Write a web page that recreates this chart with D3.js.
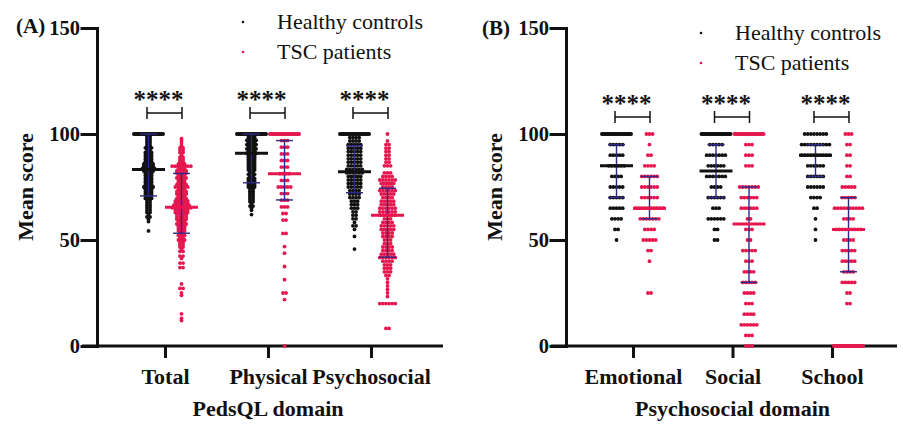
<!DOCTYPE html>
<html>
<head>
<meta charset="utf-8">
<script src="https://cdn.jsdelivr.net/npm/d3@7"></script>
<style>
  body { margin: 0; background: #fff; }
  text { font-family: 'Liberation Serif', 'Times New Roman', serif; fill: #111; }
</style>
</head>
<body>
<svg id="chart" width="903" height="424"></svg>
<script>
const catsA = ['Total', 'Physical', 'Psychosocial']
const catsB = ['Emotional', 'Social', 'School']
const yTicks = [0, 50, 100, 150]
const groups = ['Healthy controls', 'TSC patients']

// [score, number of children at that score]
const totalHC = [[100,26],[98.9,2],[97.8,2],[96.7,2],[95.7,2],[94.6,2],[93.5,3],[92.4,2],[91.3,3],[90.2,3],[89.1,3],[88.0,3],[87.0,3],[85.9,4],[84.8,4],[83.7,5],[82.6,4],[81.5,3],[80.4,3],[79.3,3],[78.3,3],[77.2,3],[76.1,3],[75.0,4],[73.9,3],[72.8,3],[71.7,3],[70.7,3],[69.6,3],[68.5,2],[67.4,2],[66.3,2],[65.2,2],[64.1,2],[63.0,2],[62.0,1],[60.9,2],[59.8,1],[58.7,1],[54.3,1]]
const totalTSC = [[97.8,1],[96.7,1],[95.7,1],[94.6,1],[93.5,2],[92.4,2],[91.3,2],[90.2,1],[89.1,2],[88.0,2],[87.0,2],[85.9,3],[84.8,7],[83.7,3],[82.6,4],[81.5,4],[80.4,3],[79.3,4],[78.3,3],[77.2,3],[76.1,4],[75.0,5],[73.9,3],[72.8,4],[71.7,4],[70.7,3],[69.6,4],[68.5,5],[67.4,5],[66.3,6],[65.2,7],[64.1,5],[63.0,5],[62.0,4],[60.9,4],[59.8,4],[58.7,3],[57.6,4],[56.5,3],[55.4,3],[54.3,3],[53.3,2],[52.2,3],[51.1,2],[50.0,3],[48.9,2],[47.8,2],[46.7,2],[45.7,1],[44.6,2],[42.4,2],[41.3,1],[39.1,2],[37.0,2],[29.3,1],[27.2,2],[25.0,1],[23.9,1],[15.2,1],[13.0,1],[12.0,1]]
const physHC = [[100,26],[99,3],[98,3],[97,4],[96,3],[95,4],[94,3],[93,4],[92,3],[91,4],[90,3],[89,3],[88,3],[87,3],[86,3],[85,3],[84,3],[83,3],[82,2],[81,3],[80,2],[79,3],[78,3],[77,3],[76,3],[75,3],[74,2],[73,2],[72,2],[71,2],[70,2],[69,2],[68,2],[67,1],[66,2],[65,1],[64,1],[62,1]]
const physTSC = [[100,24],[96.9,3],[93.8,3],[90.6,3],[87.5,3],[84.4,3],[81.3,4],[78.1,3],[75,5],[71.9,3],[68.8,3],[65.6,3],[62.5,2],[59.4,2],[53.1,2],[46.9,1],[43.8,1],[37.5,1],[31.3,1],[25,2],[21.9,1],[0,1]]
const psyHC = [[100,24],[98.3,4],[96.7,4],[95,5],[93.3,5],[91.7,5],[90,5],[88.3,5],[86.7,5],[85,5],[83.3,6],[81.7,6],[80,5],[78.3,5],[76.7,5],[75,5],[73.3,4],[71.7,4],[70,4],[68.3,3],[66.7,3],[65,3],[63.3,2],[61.7,2],[60,2],[58.3,1],[56.7,2],[55,1],[51.7,1],[45.7,1]]
const psyTSC = [[100,1],[96.7,1],[95,2],[93.3,2],[91.7,2],[90,2],[88.3,2],[86.7,2],[85,3],[81.7,3],[80,4],[78.3,6],[76.7,5],[75,4],[73.3,6],[71.7,5],[70,4],[68.3,5],[66.7,5],[65,6],[63.3,6],[61.7,6],[60,3],[58.3,4],[56.7,5],[55,5],[53.3,4],[51.7,4],[50,3],[48.3,3],[46.7,4],[45,4],[43.3,5],[41.7,6],[40,4],[38.3,3],[36.7,3],[35,3],[33.3,2],[31.7,1],[30,1],[28.3,1],[26.7,1],[25,1],[23.3,1],[20,6],[8.3,2]]
const emoHC = [[100,24],[95,5],[90,5],[85,6],[80,4],[75,5],[70,5],[65,5],[60,4],[55,2],[50,1]]
const emoTSC = [[100,3],[95,1],[90,2],[85,4],[80,6],[75,6],[70,6],[65,10],[60,7],[55,4],[50,5],[45,2],[40,1],[25,2]]
const socHC = [[100,26],[95,5],[90,7],[85,6],[80,7],[75,4],[70,6],[65,3],[60,6],[55,2],[50,2]]
const socTSC = [[100,24],[95,3],[90,3],[85,3],[75,7],[70,6],[65,6],[60,2],[55,3],[50,2],[45,5],[40,3],[35,4],[30,5],[25,4],[20,3],[15,4],[10,6],[5,3],[0,3]]
const schHC = [[100,8],[95,10],[90,10],[85,6],[80,6],[75,6],[70,4],[65,2],[60,1],[55,1],[50,1]]
const schTSC = [[100,3],[95,2],[90,2],[85,2],[80,2],[75,5],[70,5],[65,10],[60,4],[55,9],[50,4],[45,5],[40,5],[35,4],[30,5],[25,2],[20,2],[0,20]]

// median and interquartile range, per category
const medHC_A = [83.3, 90.9, 82.2]
const q1HC_A = [70.8, 77.0, 72.3]
const q3HC_A = [100, 100, 94.4]
const medTSC_A = [65.4, 81.3, 61.7]
const q1TSC_A = [53.2, 68.9, 41.9]
const q3TSC_A = [81.4, 96.9, 74.4]
const medHC_B = [85, 82.5, 90]
const q1HC_B = [70, 70, 80]
const q3HC_B = [95, 95, 95]
const medTSC_B = [65, 57.5, 55]
const q1TSC_B = [60, 30, 35]
const q3TSC_B = [80, 75, 70]

const red = '#e5174e'
const navy = '#2e2b88'
const ink = '#111'
const half = 16.5
const dotR = 1.9

const svg = d3.select('#chart')
const y = d3.scaleLinear().domain([0, 150]).range([346, 28])

function rows(data, cx) {
  let pts = []
  data.forEach(([v, n]) => {
    let step = n > 1 ? Math.min(3.1, (2 * half - 2 * dotR) / (n - 1)) : 0
    for (let i = 0; i < n; i++) pts.push({ v: v, x: cx + (i - (n - 1) / 2) * step })
  })
  return pts
}

function panel(p) {
  const x = d3.scalePoint().domain(p.cats).range(p.xRange)
  const g = svg.append('g')

  const yAxis = g.append('g')
    .attr('transform', `translate(${p.axisX},0)`)
    .call(d3.axisLeft(y).tickValues(yTicks).tickSize(15).tickSizeOuter(0).tickPadding(2))
  yAxis.selectAll('path, line').attr('stroke', ink).attr('stroke-width', 3).attr('stroke-linecap', 'square')
  yAxis.selectAll('text').attr('font-size', 20.5).attr('font-weight', 'bold').attr('fill', ink)
    .attr('font-family', "'Liberation Serif', serif")

  const xAxis = g.append('g')
    .attr('transform', `translate(0,${y(0)})`)
    .call(d3.axisBottom(x).tickSize(12).tickSizeOuter(0).tickPadding(10))
  xAxis.select('.domain').remove()
  xAxis.append('line')
    .attr('x1', p.axisX - 15).attr('x2', p.xEnd)
    .attr('stroke', ink).attr('stroke-width', 3)
  xAxis.selectAll('line').attr('stroke', ink).attr('stroke-width', 3)
  xAxis.selectAll('text').attr('font-size', 22).attr('font-weight', 'bold').attr('fill', ink)
    .attr('font-family', "'Liberation Serif', serif")

  g.append('text')
    .attr('transform', `translate(${p.axisX - 64},${(y(0) + y(150)) / 2}) rotate(-90)`)
    .attr('text-anchor', 'middle')
    .attr('font-size', 22).attr('font-weight', 'bold')
    .text('Mean score')

  g.append('text')
    .attr('x', x(p.cats[1])).attr('y', 416)
    .attr('text-anchor', 'middle')
    .attr('font-size', 22).attr('font-weight', 'bold')
    .text(p.title)

  g.append('text')
    .attr('x', p.tagX).attr('y', p.tagY)
    .attr('font-family', "'Liberation Sans', Arial, sans-serif")
    .attr('font-size', 21).attr('font-weight', 'bold')
    .text(p.tag)

  // dots, error bars, medians
  p.cats.forEach((c, i) => {
    const sets = [
      { data: p.hc[i], cx: x(c) - half, col: ink, med: p.medHC[i], q1: p.q1HC[i], q3: p.q3HC[i] },
      { data: p.tsc[i], cx: x(c) + half, col: red, med: p.medTSC[i], q1: p.q1TSC[i], q3: p.q3TSC[i] }
    ]
    sets.forEach((s) => {
      g.append('g').selectAll('circle')
        .data(rows(s.data, s.cx))
        .enter()
        .append('circle')
        .attr('cx', (d) => d.x)
        .attr('cy', (d) => y(d.v))
        .attr('r', dotR)
        .attr('fill', s.col)

      const eb = g.append('g').attr('stroke', navy).attr('stroke-width', 1.4)
      eb.append('line').attr('x1', s.cx).attr('x2', s.cx).attr('y1', y(s.q1)).attr('y2', y(s.q3))
      eb.selectAll('.cap').data([s.q1, s.q3]).enter().append('line')
        .attr('x1', s.cx - 8.5).attr('x2', s.cx + 8.5)
        .attr('y1', (d) => y(d)).attr('y2', (d) => y(d))

      g.append('line')
        .attr('x1', s.cx - half).attr('x2', s.cx + half)
        .attr('y1', y(s.med)).attr('y2', y(s.med))
        .attr('stroke', s.col).attr('stroke-width', 3)
    })

    // significance bracket
    const by = p.bracketY
    const br = g.append('g').attr('stroke', ink).attr('stroke-width', 1.5)
    br.append('line').attr('x1', x(c) - 18).attr('x2', x(c) + 17).attr('y1', by).attr('y2', by)
    br.append('line').attr('x1', x(c) - 18).attr('x2', x(c) - 18).attr('y1', by - 6).attr('y2', by + 6)
    br.append('line').attr('x1', x(c) + 17).attr('x2', x(c) + 17).attr('y1', by - 6).attr('y2', by + 6)
    g.append('text')
      .attr('x', x(c) - 6.5).attr('y', by - 5)
      .attr('text-anchor', 'middle')
      .attr('font-size', 25).attr('font-weight', 'bold')
      .text('****')
  })

  // legend
  const lg = g.append('g')
  groups.forEach((name, i) => {
    lg.append('circle')
      .attr('cx', p.legX).attr('cy', p.legY + i * 30 - 7)
      .attr('r', 1.3).attr('fill', i ? red : ink)
    lg.append('text')
      .attr('x', p.legX + 34).attr('y', p.legY + i * 30)
      .attr('font-size', 22)
      .text(name)
  })
}

panel({
  cats: catsA, xRange: [165, 371], axisX: 97, xEnd: 443,
  hc: [totalHC, physHC, psyHC], tsc: [totalTSC, physTSC, psyTSC],
  medHC: medHC_A, q1HC: q1HC_A, q3HC: q3HC_A,
  medTSC: medTSC_A, q1TSC: q1TSC_A, q3TSC: q3TSC_A,
  title: 'PedsQL domain', tag: '(A)', tagX: 16, tagY: 33,
  legX: 243, legY: 29, bracketY: 113
})

panel({
  cats: catsB, xRange: [633, 832], axisX: 566, xEnd: 897,
  hc: [emoHC, socHC, schHC], tsc: [emoTSC, socTSC, schTSC],
  medHC: medHC_B, q1HC: q1HC_B, q3HC: q3HC_B,
  medTSC: medTSC_B, q1TSC: q1TSC_B, q3TSC: q3TSC_B,
  title: 'Psychosocial domain', tag: '(B)', tagX: 482, tagY: 35,
  legX: 701, legY: 40, bracketY: 117
})
</script>
</body>
</html>
